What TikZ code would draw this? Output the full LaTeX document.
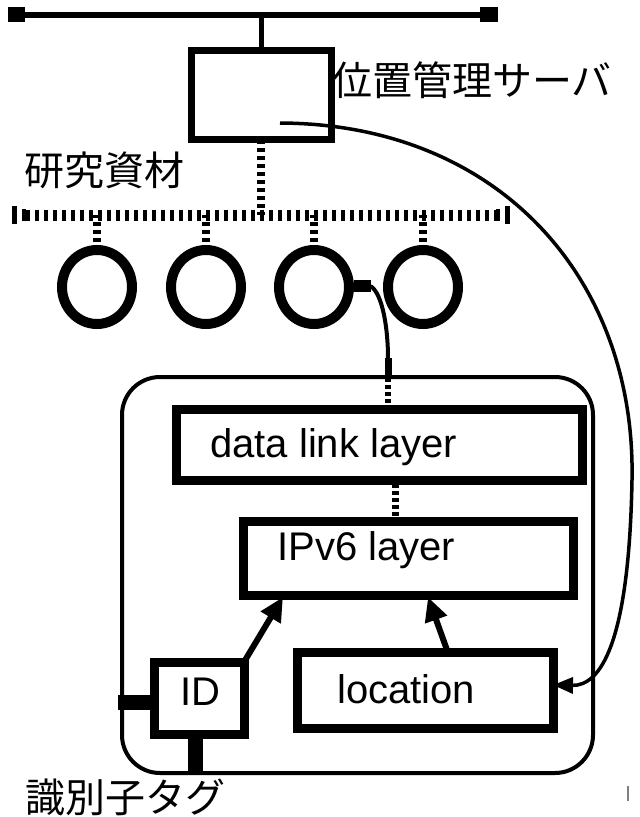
\documentclass[tikz,border=0pt]{standalone}
\usepackage{fontspec}
\setmainfont{Liberation Sans}
\newfontfamily\jp{Noto Sans CJK JP}
\usetikzlibrary{arrows.meta,shapes.geometric}
\tikzset{
  box/.style={draw, line width=9pt, inner sep=0pt, outer sep=0pt},
  lbl/.style={font=\fontsize{40}{48}\selectfont, inner sep=0pt},
  jlbl/.style={font=\jp\fontsize{40}{48}\selectfont, inner sep=0pt},
  dots/.style={line width=8pt, dash pattern=on 4pt off 4pt},
  blk/.style={fill=black, inner sep=0pt, outer sep=0pt},
  ring/.style={draw, ellipse, line width=10pt, minimum width=70pt, minimum height=74pt, inner sep=0pt, outer sep=0pt},
  arr/.style={line width=6pt, -{Triangle[length=24pt,width=22pt]}},
}
\begin{document}
\begin{tikzpicture}[x=1pt,y=-1pt]
\useasboundingbox (0,0) rectangle (640,817);

% top bus
\node[blk, minimum width=17pt, minimum height=15pt] (sqL) at (16.5,14.5) {};
\node[blk, minimum width=18pt, minimum height=15pt] (sqR) at (489,14.5) {};
\draw[line width=6pt] (sqL) -- (sqR);

% server
\node[box, line width=7pt, minimum width=140pt, minimum height=89pt] (srv) at (261,95) {};
\draw[line width=5pt] (srv.north) -- (srv.north |- sqL);
\node[jlbl, anchor=west] (srvlbl) at (332,80) {位置管理サーバ};
\node[jlbl] (res) at (104,170) {研究資材};

% lower bus
\coordinate (busL) at (20,215);
\coordinate (busR) at (500,215);
\node[blk, minimum width=5pt, minimum height=18pt] (bL1) at (14,215) {};
\node[blk, minimum width=4pt, minimum height=12pt] (bL2) at (24,215) {};
\node[blk, minimum width=4pt, minimum height=12pt] (bR2) at (498,215) {};
\node[blk, minimum width=5pt, minimum height=18pt] (bR1) at (507,215) {};
\draw[line width=11pt, dash pattern=on 4pt off 5pt] (bL2) -- (bR2);
\draw[dots] (srv.south) -- (srv.south |- busL);

% rings
\node[ring] (c1) at (97,287) {};
\node[ring] (c2) at (206,287) {};
\node[ring] (c3) at (314,287) {};
\node[ring] (c4) at (423,287) {};
\foreach \c in {c1,c2,c3,c4}
  \draw[dots] (\c.north) -- (\c.north |- busL);

% container
\draw[line width=4pt, rounded corners=38pt] (122,377) rectangle (593,773);

% data link and IPv6
\node[box, minimum width=406pt, minimum height=71pt] (dll) at (379,444.5) {};
\node[lbl, anchor=base west] (dlltxt) at (210,457) {data link layer};
\node[box, minimum width=330pt, minimum height=74pt] (ip) at (408,558) {};
\node[lbl, anchor=base west] (iptxt) at (277,560) {IPv6 layer};
\coordinate (dA) at (395,484);
\coordinate (dB) at (395,517);
\draw[line width=7pt, dash pattern=on 4pt off 3pt] (dA) -- (dB);

% link from ring 3
\node[blk, minimum width=17pt, minimum height=12pt] (sq3) at (362,286) {};
\coordinate (k1) at (388,358);
\coordinate (k2) at (388,378);
\coordinate (k3) at (388,405);
\draw[line width=4pt] (sq3.east) .. controls (383,294) and (388,330) .. (k1);
\draw[line width=7pt] (k1) -- (k2);
\draw[line width=6pt, dash pattern=on 4pt off 3pt] (k2) -- (k3);

% ID box
\node[box, minimum width=90pt, minimum height=72pt] (id) at (199,698) {};
\node[lbl, anchor=base] (idtxt) at (200,705) {ID};
\node[blk, minimum width=32pt, minimum height=15pt] (idL) at (134,702.5) {};
\node[blk, minimum width=15pt, minimum height=37pt] (idB) at (195.5,756.5) {};
\node[jlbl] (tag) at (125,797) {識別子タグ};

% location box
\node[box, minimum width=256pt, minimum height=76pt] (loc) at (425,690) {};
\node[lbl, anchor=base west] (loctxt) at (337,703) {location};

% arrows to IPv6
\coordinate (tA) at (283,597);
\draw[arr] (id.north east) -- (tA);
\coordinate (tB0) at (447,650);
\coordinate (tB) at (428,597);
\draw[arr] (tB0) -- (tB);

% server to location curve
\coordinate (srvIn) at (280,123);
\coordinate (mid) at (632,480);
\draw[line width=3.5pt, -{Triangle[length=20pt,width=16pt]}] (srvIn) .. controls (500,124) and (636,280) .. (mid) .. controls (629,645) and (600,686) .. ([yshift=5pt]loc.east);

% small mark
\draw[gray, line width=1.2pt] (628,786) -- (628,801);
\end{tikzpicture}
\end{document}
